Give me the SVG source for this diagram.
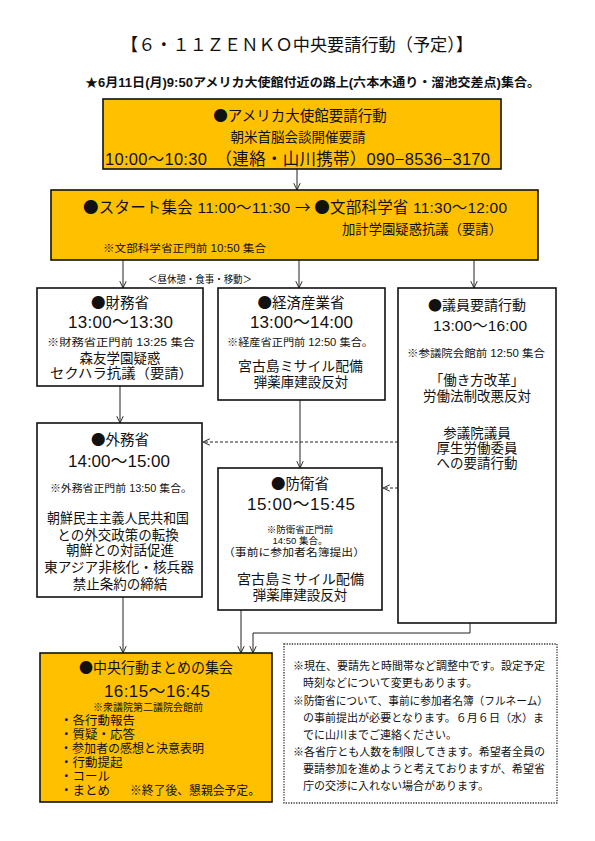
<svg xmlns="http://www.w3.org/2000/svg" width="595" height="841" viewBox="0 0 595 841">
<style>
text{font-family:"Liberation Sans","Noto Sans CJK JP","Noto Sans CJK SC",sans-serif;fill:#111}
.j{font-family:"Noto Sans CJK JP","Noto Sans CJK SC",sans-serif}
.c{text-anchor:middle}
.box{fill:#fff;stroke:#111;stroke-width:1.6}
.org{fill:#FFC000;stroke:#111;stroke-width:1.6}
.note{fill:#fff;stroke:#333;stroke-width:1.3;stroke-dasharray:1.3 1.3}
.ln{fill:none;stroke:#222;stroke-width:1}
.dash{fill:none;stroke:#222;stroke-width:1;stroke-dasharray:3 2}
.s10{font-size:10px}
.s14{font-size:13.5px}
.s15{font-size:14.5px}
.s18{font-size:17px}
</style>
<defs>
<marker id="ar" viewBox="0 0 10 10" refX="9.5" refY="5" markerWidth="8" markerHeight="8" markerUnits="userSpaceOnUse" orient="auto">
<path d="M1,1 L9.5,5 L1,9" fill="none" stroke="#222" stroke-width="1.2"/>
</marker>
</defs>
<rect width="595" height="841" fill="#fff"/>
<g id="title">
<text x="297" y="51" class="c j" font-size="17.5" textLength="352" lengthAdjust="spacingAndGlyphs">【６・１１ＺＥＮＫＯ中央要請行動（予定）】</text>
<text x="85" y="87" font-size="12.5" font-weight="bold" textLength="455" lengthAdjust="spacingAndGlyphs">★6月11日(月)9:50アメリカ大使館付近の路上(六本木通り・溜池交差点)集合。</text>
</g>
<g id="connectors">
<line class="ln" x1="297" y1="169" x2="297" y2="190" marker-end="url(#ar)"/>
<line class="ln" x1="123" y1="260" x2="123" y2="288" marker-end="url(#ar)"/>
<line class="ln" x1="299" y1="260" x2="299" y2="288" marker-end="url(#ar)"/>
<line class="ln" x1="474" y1="260" x2="474" y2="288" marker-end="url(#ar)"/>
<line class="ln" x1="120" y1="386" x2="120" y2="423" marker-end="url(#ar)"/>
<line class="ln" x1="300" y1="400" x2="300" y2="468" marker-end="url(#ar)"/>
<line class="dash" x1="398" y1="442" x2="203" y2="442" marker-end="url(#ar)"/>
<line class="dash" x1="398" y1="488" x2="383" y2="488" marker-end="url(#ar)"/>
<line class="ln" x1="123" y1="597" x2="123" y2="653" marker-end="url(#ar)"/>
<line class="ln" x1="241" y1="610" x2="241" y2="653" marker-end="url(#ar)"/>
<path class="ln" d="M470,623 V633 H253 V653" marker-end="url(#ar)"/>
<text x="148" y="283" font-size="10" textLength="104" lengthAdjust="spacingAndGlyphs">＜昼休憩・食事・移動＞</text>
</g>
<g id="embassy">
<rect class="org" x="103" y="99" width="398" height="70"/>
<text x="300" y="121" class="c j" font-size="14.5">●アメリカ大使館要請行動</text>
<text x="298" y="142" class="c s14">朝米首脳会談開催要請</text>
<text x="105" y="165" font-size="16.5" textLength="385" lengthAdjust="spacing">10:00〜10:30　（連絡・山川携帯）090−8536−3170</text>
</g>
<g id="start">
<rect class="org" x="51" y="190" width="487" height="70"/>
<text x="83" y="213" font-size="15.5" textLength="424" lengthAdjust="spacing"><tspan class="j">●</tspan>スタート集会 11:00〜11:30 <tspan class="j">→ ●</tspan>文部科学省 11:30〜12:00</text>
<text x="342" y="234" font-size="13.5" textLength="160" lengthAdjust="spacingAndGlyphs">加計学園疑惑抗議（要請）</text>
<text x="103" y="252" class="s10" textLength="163" lengthAdjust="spacingAndGlyphs">※文部科学省正門前 10:50 集合</text>
</g>
<g id="zaimu">
<rect class="box" x="37" y="288" width="166" height="98"/>
<text x="120" y="308" class="c s15 j">●財務省</text>
<text x="68" y="328" class="s18" textLength="105" lengthAdjust="spacing">13:00〜13:30</text>
<text x="47" y="346" class="s10" textLength="148" lengthAdjust="spacingAndGlyphs">※財務省正門前 13:25 集合</text>
<text x="120" y="363" class="c s14">森友学園疑惑</text>
<text x="50" y="378" class="s14" textLength="143" lengthAdjust="spacingAndGlyphs">セクハラ抗議（要請）</text>
</g>
<g id="keizai">
<rect class="box" x="218" y="288" width="167" height="112"/>
<text x="301" y="308" class="c s15 j">●経済産業省</text>
<text x="250" y="328" class="s18" textLength="103" lengthAdjust="spacing">13:00〜14:00</text>
<text x="227" y="346" class="s10" textLength="146" lengthAdjust="spacingAndGlyphs">※経産省正門前 12:50 集合。</text>
<text x="238" y="371" class="s14" textLength="125" lengthAdjust="spacingAndGlyphs">宮古島ミサイル配備</text>
<text x="301" y="387" class="c s14">弾薬庫建設反対</text>
</g>
<g id="giin">
<rect class="box" x="398" y="288" width="158" height="335"/>
<text x="477" y="310" class="c j" font-size="14">●議員要請行動</text>
<text x="433" y="331" font-size="15.5" textLength="94" lengthAdjust="spacing">13:00〜16:00</text>
<text x="407" y="357" font-size="10" textLength="138" lengthAdjust="spacingAndGlyphs">※参議院会館前 12:50 集合</text>
<text x="477" y="385" class="c s14">「働き方改革」</text>
<text x="477" y="401" class="c s14">労働法制改悪反対</text>
<text x="477" y="438" class="c s14">参議院議員</text>
<text x="477" y="453" class="c s14">厚生労働委員</text>
<text x="477" y="468" class="c s14">への要請行動</text>
</g>
<g id="gaimu">
<rect class="box" x="37" y="423" width="165" height="174"/>
<text x="120" y="445" class="c s15 j">●外務省</text>
<text x="68" y="467" class="s18" textLength="102" lengthAdjust="spacing">14:00〜15:00</text>
<text x="50" y="492" class="s10" textLength="142" lengthAdjust="spacingAndGlyphs">※外務省正門前 13:50 集合。</text>
<text x="47" y="523" class="s14" textLength="142" lengthAdjust="spacingAndGlyphs">朝鮮民主主義人民共和国</text>
<text x="118" y="540" class="c s14">との外交政策の転換</text>
<text x="120" y="555" class="c s14">朝鮮との対話促進</text>
<text x="44" y="572" class="s14" textLength="150" lengthAdjust="spacingAndGlyphs">東アジア非核化・核兵器</text>
<text x="120" y="589" class="c s14">禁止条約の締結</text>
</g>
<g id="boei">
<rect class="box" x="218" y="468" width="164" height="142"/>
<text x="300" y="489" class="c s15 j">●防衛省</text>
<text x="247" y="510" class="s18" textLength="108" lengthAdjust="spacing">15:00〜15:45</text>
<text x="300" y="533" class="c" font-size="9.5">※防衛省正門前</text>
<text x="300" y="544" class="c" font-size="9.5">14:50 集合。</text>
<text x="223" y="556" font-size="10.5" textLength="142" lengthAdjust="spacingAndGlyphs">（事前に参加者名簿提出）</text>
<text x="237" y="584" class="s14" textLength="127" lengthAdjust="spacingAndGlyphs">宮古島ミサイル配備</text>
<text x="300" y="600" class="c s14">弾薬庫建設反対</text>
</g>
<g id="matome">
<rect class="org" x="40" y="653" width="232" height="149"/>
<text x="79" y="673" class="j" font-size="14.5" textLength="154" lengthAdjust="spacingAndGlyphs">●中央行動まとめの集会</text>
<text x="104" y="697" class="s18" textLength="106" lengthAdjust="spacing">16:15〜16:45</text>
<text x="93" y="711" font-size="10" textLength="110" lengthAdjust="spacingAndGlyphs">※衆議院第二議院会館前</text>
<g font-size="12.5">
<text x="60" y="725">・各行動報告</text>
<text x="60" y="739">・質疑・応答</text>
<text x="60" y="753" textLength="144" lengthAdjust="spacingAndGlyphs">・参加者の感想と決意表明</text>
<text x="60" y="767">・行動提起</text>
<text x="60" y="781">・コール</text>
<text x="60" y="795">・まとめ</text>
</g>
<text x="130" y="795" font-size="12" textLength="130" lengthAdjust="spacingAndGlyphs">※終了後、懇親会予定。</text>
</g>
<g id="notes">
<rect class="note" x="284" y="644" width="273" height="159"/>
<g font-size="11">
<text x="293" y="670" textLength="252" lengthAdjust="spacingAndGlyphs">※現在、要請先と時間帯など調整中です。設定予定</text>
<text x="303" y="687">時刻などについて変更もあります。</text>
<text x="293" y="705" textLength="255" lengthAdjust="spacingAndGlyphs">※防衛省について、事前に参加者名簿（フルネーム）</text>
<text x="303" y="722" textLength="241" lengthAdjust="spacingAndGlyphs">の事前提出が必要となります。６月６日（水）ま</text>
<text x="303" y="739">でに山川までご連絡ください。</text>
<text x="293" y="756" textLength="252" lengthAdjust="spacingAndGlyphs">※各省庁とも人数を制限してきます。希望者全員の</text>
<text x="303" y="773" textLength="242" lengthAdjust="spacingAndGlyphs">要請参加を進めようと考えておりますが、希望省</text>
<text x="303" y="790">庁の交渉に入れない場合があります。</text>
</g>
</g>
</svg>
